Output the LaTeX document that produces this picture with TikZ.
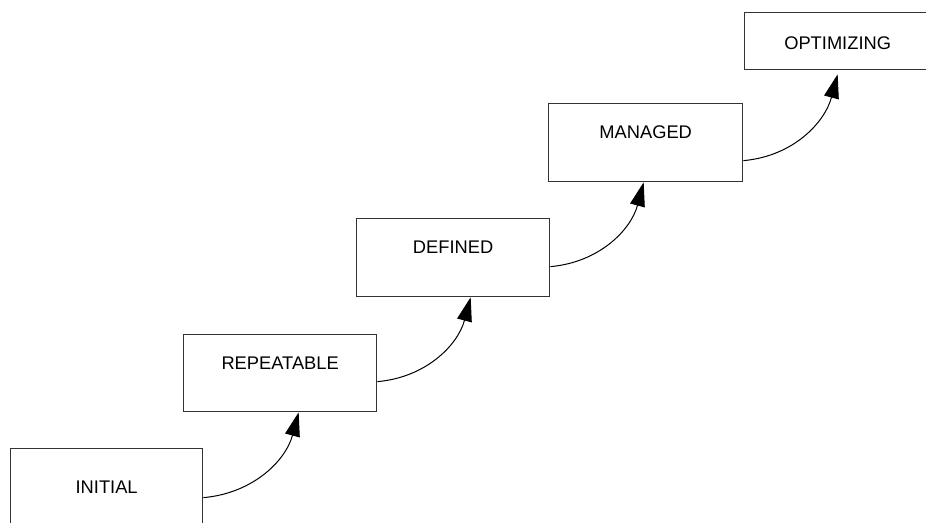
\documentclass[tikz,border=0pt]{standalone}
\usepackage{fontspec}
\setmainfont{Liberation Sans}
\usetikzlibrary{positioning, arrows.meta}

\begin{document}
\begin{tikzpicture}[
    x=1pt, y=1pt,
    stage/.style={rectangle, draw=black!80, line width=1.3pt, anchor=north west, inner sep=0pt,
        text height=34.5pt, text depth=43.5pt, font=\fontsize{18.3}{22}\selectfont},
    climb/.style={line width=1pt, -{Triangle[length=24pt, width=15pt]}},
]
\useasboundingbox (0,0) rectangle (926,522);

% Stages, bottom left to top right
\node[stage, minimum width=192pt, text height=44.5pt, text depth=35.5pt] (ini) at (10,74) {INITIAL};
\node[stage, minimum width=193pt, text depth=42.5pt] (rep) at (183,188) {REPEATABLE};
\node[stage, minimum width=193pt] (def) at (356,304) {DEFINED};
\node[stage, minimum width=194pt] (man) at (548,419) {MANAGED};
\node[stage, minimum width=186pt, text height=36.5pt, text depth=20.5pt] (opt) at (744,510) {OPTIMIZING};

% Arrows between stages
\draw[climb] ([yshift=-9pt]ini.east) to[out=5, in=-105] ([xshift=18.5pt]rep.south);
\draw[climb] ([yshift=-8.5pt]rep.east) to[out=5, in=-105] ([xshift=17.5pt]def.south);
\draw[climb] ([yshift=-9pt]def.east) to[out=5, in=-105] ([xshift=-2pt]man.south);
\draw[climb] ([yshift=-18pt]man.east) to[out=5, in=-105] ([yshift=-4pt]opt.south);

\end{tikzpicture}
\end{document}
